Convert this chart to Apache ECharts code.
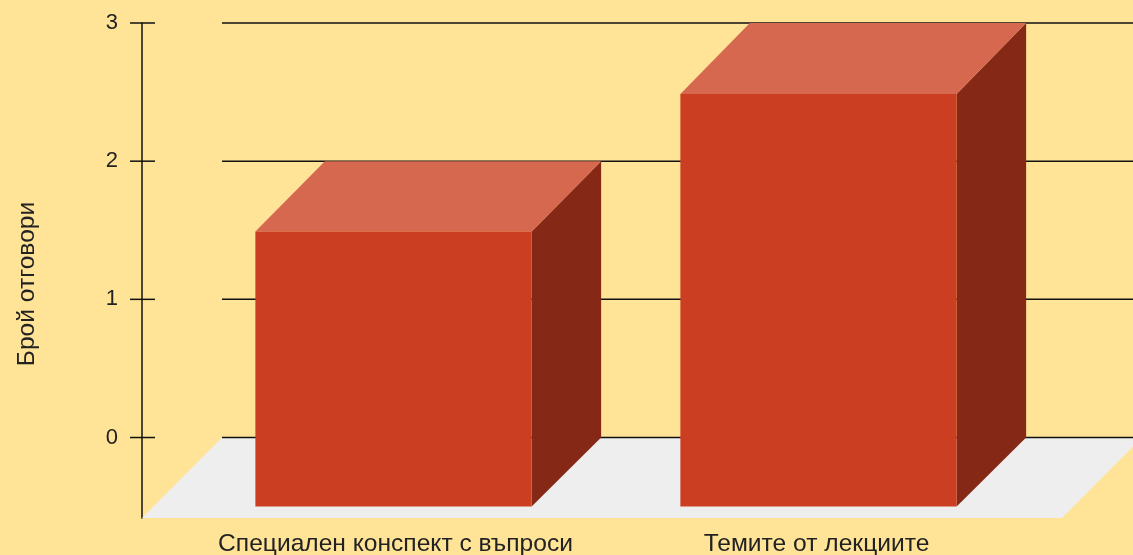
<!DOCTYPE html>
<html>
<head>
<meta charset="utf-8">
<style>html,body{margin:0;padding:0;background:#FFE397}#c{width:1133px;height:555px}</style>
<script src="https://cdn.jsdelivr.net/npm/echarts@6/dist/echarts.min.js"></script>
</head>
<body>
<div id="c"></div>
<script>
const categories = ['Специален конспект с въпроси', 'Темите от лекциите'];
const responses = [2, 3];
const yTicks = [0, 1, 2, 3];
const yTitle = 'Брой отговори';

const INK = '#111111', TXT = '#222222';
const AXIS_OFFSET = 39, FLOOR_DEPTH = 80, BAR_DEPTH_X = 69.5, BAR_DEPTH_Y = 69;
const Y_MIN = -0.5825;

const chart = echarts.init(document.getElementById('c'), null, {renderer: 'canvas'});
chart.setOption({
  animation: false,
  backgroundColor: '#FFE397',
  textStyle: {fontFamily: '"Liberation Sans", Arial, sans-serif'},
  grid: {left: 181, right: 102, top: 23, bottom: 37, containLabel: false, outerBoundsMode: 'none'},
  xAxis: {
    type: 'category',
    data: [
      {value: categories[0], textStyle: {padding: [0, 0, 0, 4]}},
      {value: categories[1], textStyle: {padding: [0, 4, 0, 0]}}
    ],
    axisLine: {show: false}, axisTick: {show: false}, splitLine: {show: false},
    axisLabel: {color: TXT, fontSize: 24.6, margin: 14, interval: 0}
  },
  yAxis: {
    type: 'value', min: Y_MIN, max: 3, offset: AXIS_OFFSET,
    axisLine: {show: true, lineStyle: {color: INK, width: 1.5}},
    axisTick: {show: false}, splitLine: {show: false},
    axisLabel: {customValues: yTicks, color: TXT, fontSize: 22, margin: 24, padding: [5, 0, 0, 0]}
  },
  graphic: [{
    type: 'text', x: 27, y: 284, rotation: Math.PI / 2,
    style: {text: yTitle, fill: TXT, font: '24.6px "Liberation Sans", Arial, sans-serif', align: 'center', verticalAlign: 'middle'}
  }],
  series: [
    {
      // floor
      type: 'custom', coordinateSystem: 'cartesian2d', silent: true, z: 1,
      data: [[0, 0]],
      renderItem(params, api) {
        const cs = params.coordSys;
        const back = api.coord([0, 0])[1], front = api.coord([0, Y_MIN])[1];
        const l = cs.x - AXIS_OFFSET, r = cs.x + cs.width + 31;
        return {type: 'polygon', shape: {points: [[l, front], [r, front], [r + FLOOR_DEPTH, back], [l + FLOOR_DEPTH, back]]},
          style: {fill: '#EEEEEE'}};
      }
    },
    {
      // back-wall grid lines and ticks crossing the axis
      type: 'custom', coordinateSystem: 'cartesian2d', silent: true, z: 2,
      data: yTicks.map(v => [0, v]),
      renderItem(params, api) {
        const cs = params.coordSys;
        const y = api.coord([0, api.value(1)])[1];
        const ax = cs.x - AXIS_OFFSET;
        const st = {stroke: INK, lineWidth: 1.5, fill: null};
        return {type: 'group', children: [
          {type: 'line', shape: {x1: ax - 12, y1: y, x2: ax + 13, y2: y}, style: st},
          {type: 'line', shape: {x1: ax + FLOOR_DEPTH, y1: y, x2: 1133, y2: y}, style: st}
        ]};
      }
    },
    {
      // 3D bars
      type: 'custom', coordinateSystem: 'cartesian2d', name: 'Брой отговори', z: 3,
      data: responses.map((v, i) => [i, v]),
      encode: {x: 0, y: 1},
      renderItem(params, api) {
        const c = api.coord([api.value(0), api.value(1)]);
        const y0 = api.coord([api.value(0), 0])[1];
        const w = api.size([1, 0])[0] * 0.65;
        const xl = c[0] - w / 2, xr = c[0] + w / 2;
        const fb = y0 + BAR_DEPTH_Y;
        const ft = fb - (y0 - c[1]) * 0.995;
        const bt = c[1], bb = y0;
        const dx = BAR_DEPTH_X;
        return {type: 'group', children: [
          {type: 'polygon', shape: {points: [[xr, ft], [xr + dx, bt], [xr + dx, bb], [xr, fb]]}, style: {fill: '#862816'}},
          {type: 'polygon', shape: {points: [[xl, ft], [xl + dx, bt], [xr + dx, bt], [xr, ft]]}, style: {fill: '#D66850'}},
          {type: 'rect', shape: {x: xl, y: ft, width: w, height: fb - ft}, style: {fill: '#CC3E22'}}
        ]};
      }
    }
  ]
});
</script>
</body>
</html>
